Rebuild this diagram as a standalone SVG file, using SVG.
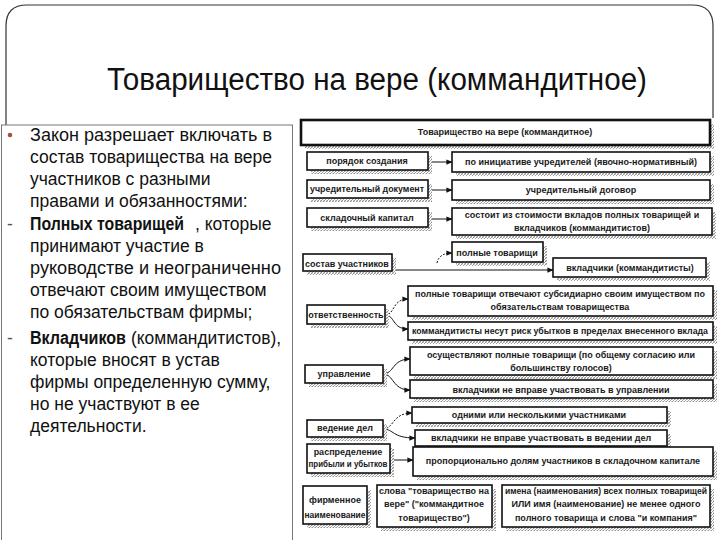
<svg xmlns="http://www.w3.org/2000/svg" width="720" height="540" viewBox="0 0 720 540">
<defs>
<pattern id="hatch" width="3" height="3" patternUnits="userSpaceOnUse">
<rect width="3" height="3" fill="#fff"/>
<path d="M0,3 L3,0" stroke="#777" stroke-width="0.8"/>
<path d="M0,0 L3,3" stroke="#aaa" stroke-width="0.6"/>
</pattern>
<marker id="arr" viewBox="0 0 8 8" refX="7.5" refY="4" markerWidth="6" markerHeight="6" orient="auto" markerUnits="userSpaceOnUse">
<path d="M0,0.5 L8,4 L0,7.5 Z" fill="#111"/>
</marker>
</defs>
<style>
.frame{fill:none;stroke:#333;stroke-width:1.2}
.lbox{fill:#fff;stroke:#777;stroke-width:1}
.sh{fill:url(#hatch);stroke:none}
.bx{fill:#fff;stroke:#111;stroke-width:1.6}
.bx2{fill:#fff;stroke:#111;stroke-width:2.6}
.t{font-family:"Liberation Sans",Arial,sans-serif;font-size:9px;font-weight:bold;fill:#1a1a1a;text-anchor:middle}
.tl{text-anchor:start}
.body{font-family:"Liberation Sans",Arial,sans-serif;font-size:17.5px;fill:#111}
.b{font-weight:bold}
.title{font-family:"Liberation Sans",Arial,sans-serif;font-size:31px;fill:#111}
.c{fill:none;stroke:#111;stroke-width:1;marker-end:url(#arr)}
.cd{fill:none;stroke:#111;stroke-width:1;stroke-dasharray:2 1.5;marker-end:url(#arr)}
</style>

<g id="frame">
<path class="frame" d="M6,125 L6,26 Q6,5 27,5 L692,5 Q713,5 713,26 L713,118"/>
<rect class="lbox" x="1.5" y="125" width="291" height="420"/>
</g>

<g id="title"><text class="title" x="107" y="90" textLength="540" lengthAdjust="spacingAndGlyphs">Товарищество на вере (коммандитное)</text></g>

<g id="left-text" class="body">
<circle cx="10" cy="135" r="2.3" fill="#a0523c"/>
<text x="30" y="141" textLength="242" lengthAdjust="spacingAndGlyphs">Закон разрешает включать в</text>
<text x="30" y="163">состав товарищества на вере</text>
<text x="30" y="185">участников с разными</text>
<text x="30" y="207">правами и обязанностями:</text>
<text x="7" y="230" fill="#555">-</text>
<text class="b" x="30" y="230" textLength="154" lengthAdjust="spacingAndGlyphs">Полных товарищей</text>
<text x="195" y="230">, которые</text>
<text x="30" y="252">принимают участие в</text>
<text x="30" y="274" textLength="251" lengthAdjust="spacingAndGlyphs">руководстве и неограниченно</text>
<text x="30" y="296">отвечают своим имуществом</text>
<text x="30" y="318">по обязательствам фирмы;</text>
<text x="7" y="344" fill="#555">-</text>
<text class="b" x="30" y="344" textLength="96" lengthAdjust="spacingAndGlyphs">Вкладчиков</text>
<text x="131" y="344" textLength="150" lengthAdjust="spacingAndGlyphs">(коммандитистов),</text>
<text x="30" y="366">которые вносят в устав</text>
<text x="30" y="388">фирмы определенную сумму,</text>
<text x="30" y="410">но не участвуют в ее</text>
<text x="30" y="432">деятельности.</text>
</g>

<g id="connectors">
<path class="c" d="M428,162 L452,162"/>
<path class="c" d="M428,190 L452,190"/>
<path class="c" d="M428,219 L452,219"/>
<path class="cd" d="M437,263 Q439,253 452,253"/>
<path class="c" d="M392,270 L553,270"/>
<path class="cd" d="M385,315 C395,315 392,299 408,299"/>
<path class="c" d="M385,315 C395,315 392,329 408,329"/>
<path class="c" d="M383,374 C394,374 392,359 410,359"/>
<path class="c" d="M383,374 C394,374 392,390 410,390"/>
<path class="cd" d="M383,429 C394,429 392,413 412,413"/>
<path class="c" d="M383,429 C394,429 392,438 415,438"/>
<path class="c" d="M390,460 L413,460"/>
</g>

<g id="n-title"><rect class="sh" x="305" y="124" width="409" height="25"/><rect class="bx2" x="301" y="120" width="409" height="25"/><text class="t" x="505" y="135">Товарищество на вере (коммандитное)</text></g>

<g id="n-poryadok"><rect class="sh" x="311" y="156" width="121" height="18"/><rect class="bx" x="307" y="152" width="121" height="18"/><text class="t" x="367" y="164">порядок создания</text></g>
<g id="n-iniciativa"><rect class="sh" x="456" y="156" width="258" height="20"/><rect class="bx" x="452" y="152" width="258" height="20"/><text class="t" x="581" y="165">по инициативе учредителей (явочно-нормативный)</text></g>

<g id="n-uchr-doc"><rect class="sh" x="311" y="184" width="121" height="18"/><rect class="bx" x="307" y="180" width="121" height="18"/><text class="t" x="367" y="192" textLength="114" lengthAdjust="spacingAndGlyphs">учредительный  документ</text></g>
<g id="n-uchr-dog"><rect class="sh" x="456" y="184" width="258" height="20"/><rect class="bx" x="452" y="180" width="258" height="20"/><text class="t" x="581" y="193">учредительный  договор</text></g>

<g id="n-kapital"><rect class="sh" x="311" y="212" width="121" height="19"/><rect class="bx" x="307" y="208" width="121" height="19"/><text class="t" x="367" y="221">складочный капитал</text></g>
<g id="n-sostoit"><rect class="sh" x="456" y="212" width="260" height="27"/><rect class="bx" x="452" y="208" width="260" height="27"/><text class="t" x="582" y="218">состоит из стоимости вкладов полных товарищей и</text><text class="t" x="582" y="231">вкладчиков (коммандитистов)</text></g>

<g id="n-polnye"><rect class="sh" x="456" y="246" width="91" height="20"/><rect class="bx" x="452" y="242" width="91" height="20"/><text class="t" x="497" y="256">полные товарищи</text></g>
<g id="n-sostav"><rect class="sh" x="307" y="258" width="89" height="17"/><rect class="bx" x="303" y="254" width="89" height="17" stroke-width="1"/><text class="t tl" x="305" y="267">состав участников</text></g>
<g id="n-vkladchiki"><rect class="sh" x="557" y="262" width="153" height="19"/><rect class="bx" x="553" y="258" width="153" height="19"/><text class="t" x="630" y="271">вкладчики (коммандитисты)</text></g>

<g id="n-otvetstv"><rect class="sh" x="311" y="309" width="78" height="19"/><rect class="bx" x="307" y="305" width="78" height="19"/><text class="t" x="346" y="318">ответственность</text></g>
<g id="n-subsid"><rect class="sh" x="412" y="290" width="305" height="30"/><rect class="bx" x="408" y="286" width="305" height="30"/><text class="t" x="560" y="297">полные товарищи отвечают субсидиарно своим имуществом по</text><text class="t" x="560" y="310">обязательствам товарищества</text></g>
<g id="n-risk"><rect class="sh" x="412" y="326" width="305" height="18"/><rect class="bx" x="408" y="322" width="305" height="18"/><text class="t" x="560" y="334" textLength="296" lengthAdjust="spacingAndGlyphs">коммандитисты несут риск убытков в пределах внесенного вклада</text></g>

<g id="n-upravl"><rect class="sh" x="309" y="369" width="78" height="18"/><rect class="bx" x="305" y="365" width="78" height="18"/><text class="t" x="344" y="377">управление</text></g>
<g id="n-osush"><rect class="sh" x="414" y="351" width="303" height="28"/><rect class="bx" x="410" y="347" width="303" height="28"/><text class="t" x="561" y="358">осуществляют полные товарищи (по общему согласию или</text><text class="t" x="561" y="371">большинству голосов)</text></g>
<g id="n-ne-upravl"><rect class="sh" x="414" y="384" width="303" height="18"/><rect class="bx" x="410" y="380" width="303" height="18"/><text class="t" x="561" y="393">вкладчики  не вправе участвовать в управлении</text></g>

<g id="n-odnimi"><rect class="sh" x="416" y="411" width="255" height="16"/><rect class="bx" x="412" y="407" width="255" height="16"/><text class="t" x="539" y="418">одними  или несколькими участниками</text></g>
<g id="n-vedenie"><rect class="sh" x="311" y="424" width="76" height="17"/><rect class="bx" x="307" y="420" width="76" height="17"/><text class="t" x="345" y="431">ведение дел</text></g>
<g id="n-ne-ved"><rect class="sh" x="419" y="434" width="252" height="16"/><rect class="bx" x="415" y="430" width="252" height="16"/><text class="t" x="541" y="441">вкладчики не вправе участвовать в ведении дел</text></g>

<g id="n-raspr"><rect class="sh" x="311" y="448" width="83" height="29"/><rect class="bx" x="307" y="444" width="83" height="29"/><text class="t" x="348" y="455">распределение</text><text class="t" x="348" y="467" textLength="79" lengthAdjust="spacingAndGlyphs">прибыли и убытков</text></g>
<g id="n-proporc"><rect class="sh" x="417" y="451" width="300" height="29"/><rect class="bx" x="413" y="447" width="300" height="29"/><text class="t" x="563" y="464">пропорционально долям участников в складочном капитале</text></g>

<g id="n-firm"><rect class="sh" x="307" y="490" width="64" height="38"/><rect class="bx" x="303" y="486" width="64" height="38"/><text class="t" x="335" y="503">фирменное</text><text class="t" x="335" y="518" textLength="61" lengthAdjust="spacingAndGlyphs">наименование</text></g>
<g id="n-slova"><rect class="sh" x="381" y="489" width="115" height="42"/><rect class="bx" x="377" y="485" width="115" height="42"/><text class="t" x="434" y="494" textLength="110" lengthAdjust="spacingAndGlyphs">слова "товарищество на</text><text class="t" x="434" y="507">вере" ("коммандитное</text><text class="t" x="434" y="521">товарищество")</text></g>
<g id="n-imena"><rect class="sh" x="506" y="489" width="208" height="42"/><rect class="bx" x="502" y="485" width="208" height="42"/><text class="t" x="606" y="494" textLength="202" lengthAdjust="spacingAndGlyphs">имена (наименования) всех полных товарищей</text><text class="t" x="606" y="507">ИЛИ имя  (наименование) не  менее одного</text><text class="t" x="606" y="521">полного товарища  и слова "и компания"</text></g>
</svg>
